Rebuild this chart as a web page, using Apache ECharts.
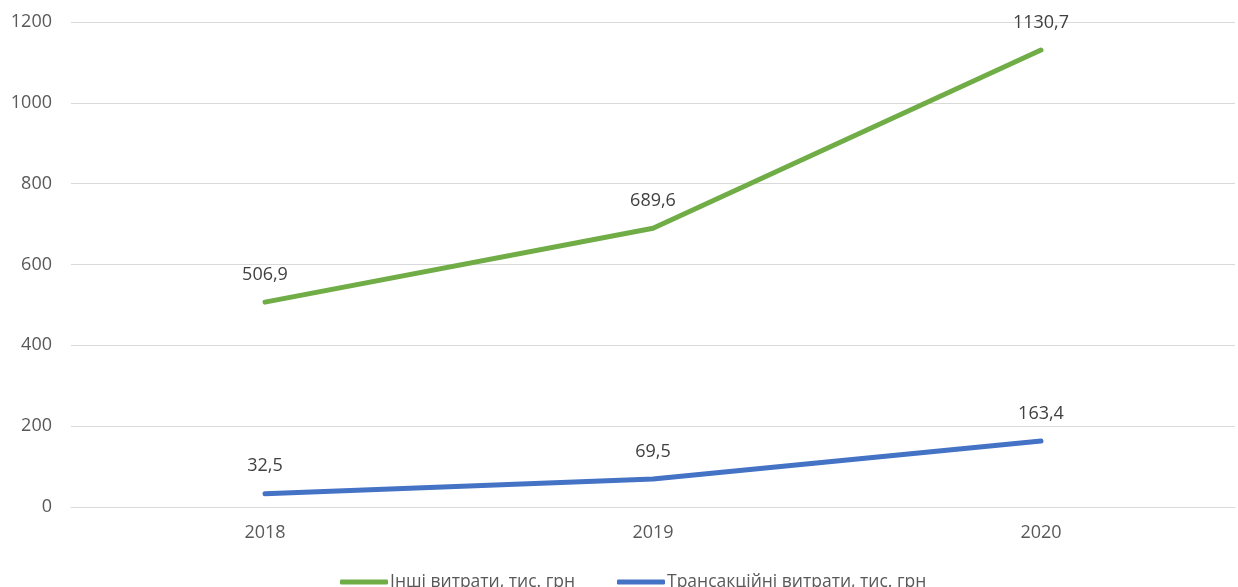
<!DOCTYPE html>
<html><head><meta charset="utf-8">
<script src="https://cdn.jsdelivr.net/npm/echarts@6/dist/echarts.min.js"></script>
<style>html,body{margin:0;padding:0;background:#fff}#c{width:1238px;height:587px}</style>
</head><body><div id="c"></div>
<script>
const categories = ['2018', '2019', '2020'];
const otherCosts = [506.9, 689.6, 1130.7];
const transactionCosts = [32.5, 69.5, 163.4];
const seriesNames = ['Інші витрати, тис. грн', 'Трансакційні витрати, тис. грн'];

const chart = echarts.init(document.getElementById('c'));
const fmt = p => String(p.value).replace('.', ',');
const font = '"Open Sans", sans-serif';
chart.setOption({
  animation: false,
  grid: { left: 71, right: 3, top: 22, bottom: 80 },
  legend: {
    top: 568, left: 335, itemWidth: 48, itemHeight: 5, itemGap: 42, icon: 'roundRect',
    textStyle: { color: '#595959', fontSize: 17.5, fontFamily: font, padding: [0, 0, 0, -3] },
    data: seriesNames
  },
  xAxis: {
    type: 'category', data: categories, boundaryGap: true,
    axisLine: { lineStyle: { color: '#d9d9d9' } },
    axisTick: { show: false },
    axisLabel: { color: '#595959', fontSize: 18, fontFamily: font, margin: 17 }
  },
  yAxis: {
    type: 'value', min: 0, max: 1200, interval: 200,
    axisLine: { show: false }, axisTick: { show: false },
    splitLine: { lineStyle: { color: '#d9d9d9' } },
    axisLabel: { color: '#595959', fontSize: 18, fontFamily: font, margin: 19, formatter: v => String(v) }
  },
  series: [
    { name: seriesNames[0], type: 'line', data: otherCosts, symbol: 'circle', symbolSize: 1, showSymbol: true,
      lineStyle: { color: '#70AD47', width: 5, cap: 'round' }, itemStyle: { color: '#70AD47' },
      label: { show: true, position: 'top', distance: 18, formatter: fmt, color: '#404040', fontSize: 18, fontFamily: font } },
    { name: seriesNames[1], type: 'line', data: transactionCosts, symbol: 'circle', symbolSize: 1, showSymbol: true,
      lineStyle: { color: '#4472C4', width: 5, cap: 'round' }, itemStyle: { color: '#4472C4' },
      label: { show: true, position: 'top', distance: 18, formatter: fmt, color: '#404040', fontSize: 18, fontFamily: font } }
  ]
});
</script></body></html>
